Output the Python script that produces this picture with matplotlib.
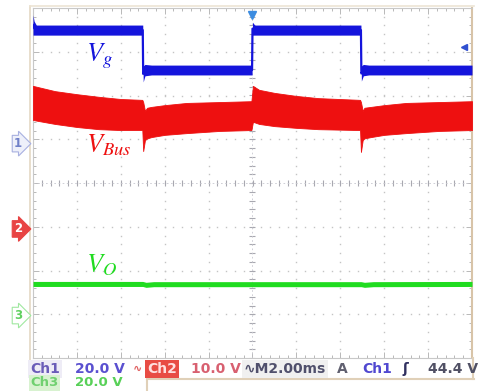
import numpy as np
import matplotlib.pyplot as plt
from matplotlib.lines import Line2D

plt.rcParams["mathtext.fontset"] = "stix"

W, H = 480, 391

# scope settings
CH1_SCALE, CH2_SCALE, CH3_SCALE = 20.0, 10.0, 20.0   # V/div
CH1_POS, CH2_POS, CH3_POS = 0.9, -1.05, -3.03        # div from centre
TRIG_LEVEL = 44.4                                    # V, on ch1

# ---- V_g (ch1) envelope, time in ms ----
vg_t  = [-10.0, -9.95, -9.85, -5.0, -4.98, -4.9, -4.6, -0.02, 0.0, 0.1, 4.94, 4.96, 5.05, 5.3, 10.0]
vg_hi = [58.8, 56.0, 54.2, 54.2, 35.5, 36.2, 35.9, 35.9, 55.5, 54.2, 54.2, 35.5, 36.2, 35.9, 35.9]
vg_lo = [49.6, 49.6, 49.6, 49.6, 28.2, 31.0, 31.4, 31.4, 49.6, 49.6, 49.6, 28.6, 31.0, 31.4, 31.4]

# ---- V_Bus (ch2) ripple envelope ----
bus_t  = [-10.0, -9.0, -8.0, -7.0, -6.0, -5.02, -4.98, -4.9, -4.8, -4.6, -4.0, -3.0, -1.5, -0.05,
          0.02, 0.3, 1.0, 2.0, 3.0, 4.9, 4.94, 5.02, 5.1, 5.4, 6.0, 7.0, 8.5, 10.0]
bus_hi = [32.7, 31.5, 30.8, 30.2, 29.7, 29.5, 29.0, 27.0, 27.7, 27.9, 28.3, 28.8, 29.0, 29.2,
          32.7, 31.8, 31.1, 30.4, 29.9, 29.5, 29.0, 27.0, 27.7, 27.9, 28.3, 28.8, 29.0, 29.2]
bus_lo = [24.9, 24.0, 23.3, 22.8, 22.6, 22.6, 17.8, 20.3, 20.7, 21.0, 21.5, 21.9, 22.4, 22.6,
          24.5, 24.0, 23.5, 23.1, 22.8, 22.6, 17.6, 20.3, 20.7, 21.0, 21.5, 21.9, 22.4, 22.6]

# ---- V_O (ch3) ----
vo_t  = [-10.0, -5.0, -4.85, -4.5, 4.95, 5.1, 5.5, 10.0]
vo_hi = [15.6, 15.6, 15.2, 15.5, 15.5, 15.2, 15.5, 15.6]
vo_lo = [13.3, 13.3, 12.9, 13.2, 13.2, 12.9, 13.2, 13.3]


def to_div(v, scale, pos):
    return np.asarray(v) / scale + pos


def fpx(x, y):
    return x / W, 1 - y / H


fig = plt.figure(figsize=(W / 100, H / 100), dpi=100)
fig.patch.set_facecolor("white")
ax = fig.add_axes([33 / W, 1 - 358 / H, 439 / W, 350 / H])
ax.set_xlim(-10, 10)
ax.set_ylim(-4, 4)

# ---- graticule ----
dot = "#c4c4c4"
ys = np.arange(-4, 4.01, 0.2)
xs = np.arange(-10, 10.01, 0.4)
for k in range(1, 10):
    x0 = -10 + 2 * k
    if x0 != 0:
        ax.plot(np.full_like(ys, x0), ys, ls="none", marker="s", ms=1.0, color=dot, mew=0)
for k in range(1, 8):
    y0 = -4 + k
    if y0 != 0:
        ax.plot(xs, np.full_like(xs, y0), ls="none", marker="s", ms=1.0, color=dot, mew=0)
# centre cross with small ticks
ax.plot(xs, np.zeros_like(xs), ls="none", marker="|", ms=4, color="#a8a8b0", mew=0.8)
ax.plot(np.zeros_like(ys), ys, ls="none", marker="_", ms=4, color="#a8a8b0", mew=0.8)
ax.axhline(0, color="#c8c8d0", lw=0.6, ls=(0, (2, 3)))
ax.axvline(0, color="#c8c8d0", lw=0.6, ls=(0, (2, 3)))

ax.set_xticks(np.arange(-10, 10.1, 2))
ax.set_yticks(np.arange(-4, 4.1, 1))
ax.set_xticks(xs, minor=True)
ax.set_yticks(ys, minor=True)
ax.tick_params(which="both", direction="in", top=True, right=True, labelbottom=False,
               labelleft=False, color="#b8b8b8", width=0.7)
ax.tick_params(which="major", length=4)
ax.tick_params(which="minor", length=2)
for side in ["left", "bottom", "top"]:
    ax.spines[side].set_color("#c8c8c8")
ax.spines["right"].set_color("#d8c4a8")
ax.spines["right"].set_linewidth(1.5)

# ---- traces ----
blue, red, green = "#1414dc", "#ee1010", "#20dc20"
vg_h = to_div(vg_hi, CH1_SCALE, CH1_POS)
vg_l = to_div(vg_lo, CH1_SCALE, CH1_POS)
ax.fill_between(vg_t, vg_l, vg_h, color=blue, lw=0, zorder=3)
ax.plot(vg_t, (vg_h + vg_l) / 2, color=blue, lw=1.6, zorder=3)

ax.fill_between(bus_t, to_div(bus_lo, CH2_SCALE, CH2_POS), to_div(bus_hi, CH2_SCALE, CH2_POS),
                color=red, lw=0.6, edgecolor=red, zorder=3)

ax.fill_between(vo_t, to_div(vo_lo, CH3_SCALE, CH3_POS), to_div(vo_hi, CH3_SCALE, CH3_POS),
                color=green, lw=0, zorder=3)

# trace labels
ax.text(-7.6, 2.77, r"$V_g$", color=blue, fontsize=19, zorder=4)
ax.text(-7.6, 0.69, r"$V_{Bus}$", color=red, fontsize=19, zorder=4)
ax.text(-7.6, -2.04, r"$V_O$", color=green, fontsize=19, zorder=4)

# trigger markers
ax.plot([0], [3.85], marker="v", ms=6, color="#3c8ce0", clip_on=False, zorder=5)
ax.plot([9.65], [to_div(TRIG_LEVEL, CH1_SCALE, CH1_POS)], marker="<", ms=5,
        color="#3050d0", clip_on=False, zorder=5)

# channel position markers
tags = [("1", CH1_POS, "#eef0fa", "#a8b0e0", "#7080c8"),
        ("2", CH2_POS, "#e84444", "#e84444", "white"),
        ("3", CH3_POS, "white", "#a0e8a0", "#60d060")]
for lab, pos, fc, ec, tc in tags:
    ypx = 183 - pos * 43.75
    fig.text(*fpx(14, ypx), lab, fontsize=8.5, fontweight="bold", color=tc, ha="left",
             va="center", bbox=dict(boxstyle="rarrow,pad=0.15", fc=fc, ec=ec, lw=0.8))

# outer beige frame lines
fig.add_artist(Line2D([30 / W, 30 / W], [1 - 6 / H, 1 - 360 / H], color="#e4d8c4", lw=1.2))
fig.add_artist(Line2D([30 / W, 474 / W], [1 - 6 / H, 1 - 6 / H], color="#ece4d4", lw=1.2))
fig.add_artist(Line2D([147 / W, 474 / W], [1 - 379 / H, 1 - 379 / H], color="#e0d0b8", lw=1.5))
fig.add_artist(Line2D([147 / W, 147 / W], [1 - 379 / H, 0], color="#e0d0b8", lw=1.5))
fig.add_artist(Line2D([473 / W, 473 / W], [1 - 358 / H, 1 - 379 / H], color="#e0d0b8", lw=1.5))

# ---- status bar ----
fs = 10
row1 = [("Ch1", 30, "#6a5cb8", "#eeecf6"),
        ("20.0 V", 75, "#5a50d0", None),
        ("\u223f", 133, "#e06060", None),
        ("Ch2", 147, "#ffe0e0", "#e84c44"),
        ("10.0 V", 191, "#d86070", None),
        ("\u223fM2.00ms", 244, "#50506c", "#f0f0f0"),
        ("A", 337, "#606070", None),
        ("Ch1", 362, "#5048d0", None),
        ("\u0283", 402, "#303060", None),
        ("44.4 V", 428, "#505064", None)]
for txt, x, c, bg in row1:
    kw = {}
    if bg:
        kw["bbox"] = dict(boxstyle="square,pad=0.12", fc=bg, ec="none")
    size = 8 if txt == "\u223f" else fs
    fig.text(*fpx(x, 369), txt, fontsize=size, fontweight="bold", color=c, ha="left",
             va="center", **kw)
fig.text(*fpx(30, 383), "Ch3", fontsize=9.5, fontweight="bold", color="#70d070", ha="left",
         va="center", bbox=dict(boxstyle="square,pad=0.1", fc="#d8f2d0", ec="none"))
fig.text(*fpx(75, 383), "20.0 V", fontsize=9.5, fontweight="bold", color="#58d058",
         ha="left", va="center")

fig.savefig("out.png", dpi=100)
